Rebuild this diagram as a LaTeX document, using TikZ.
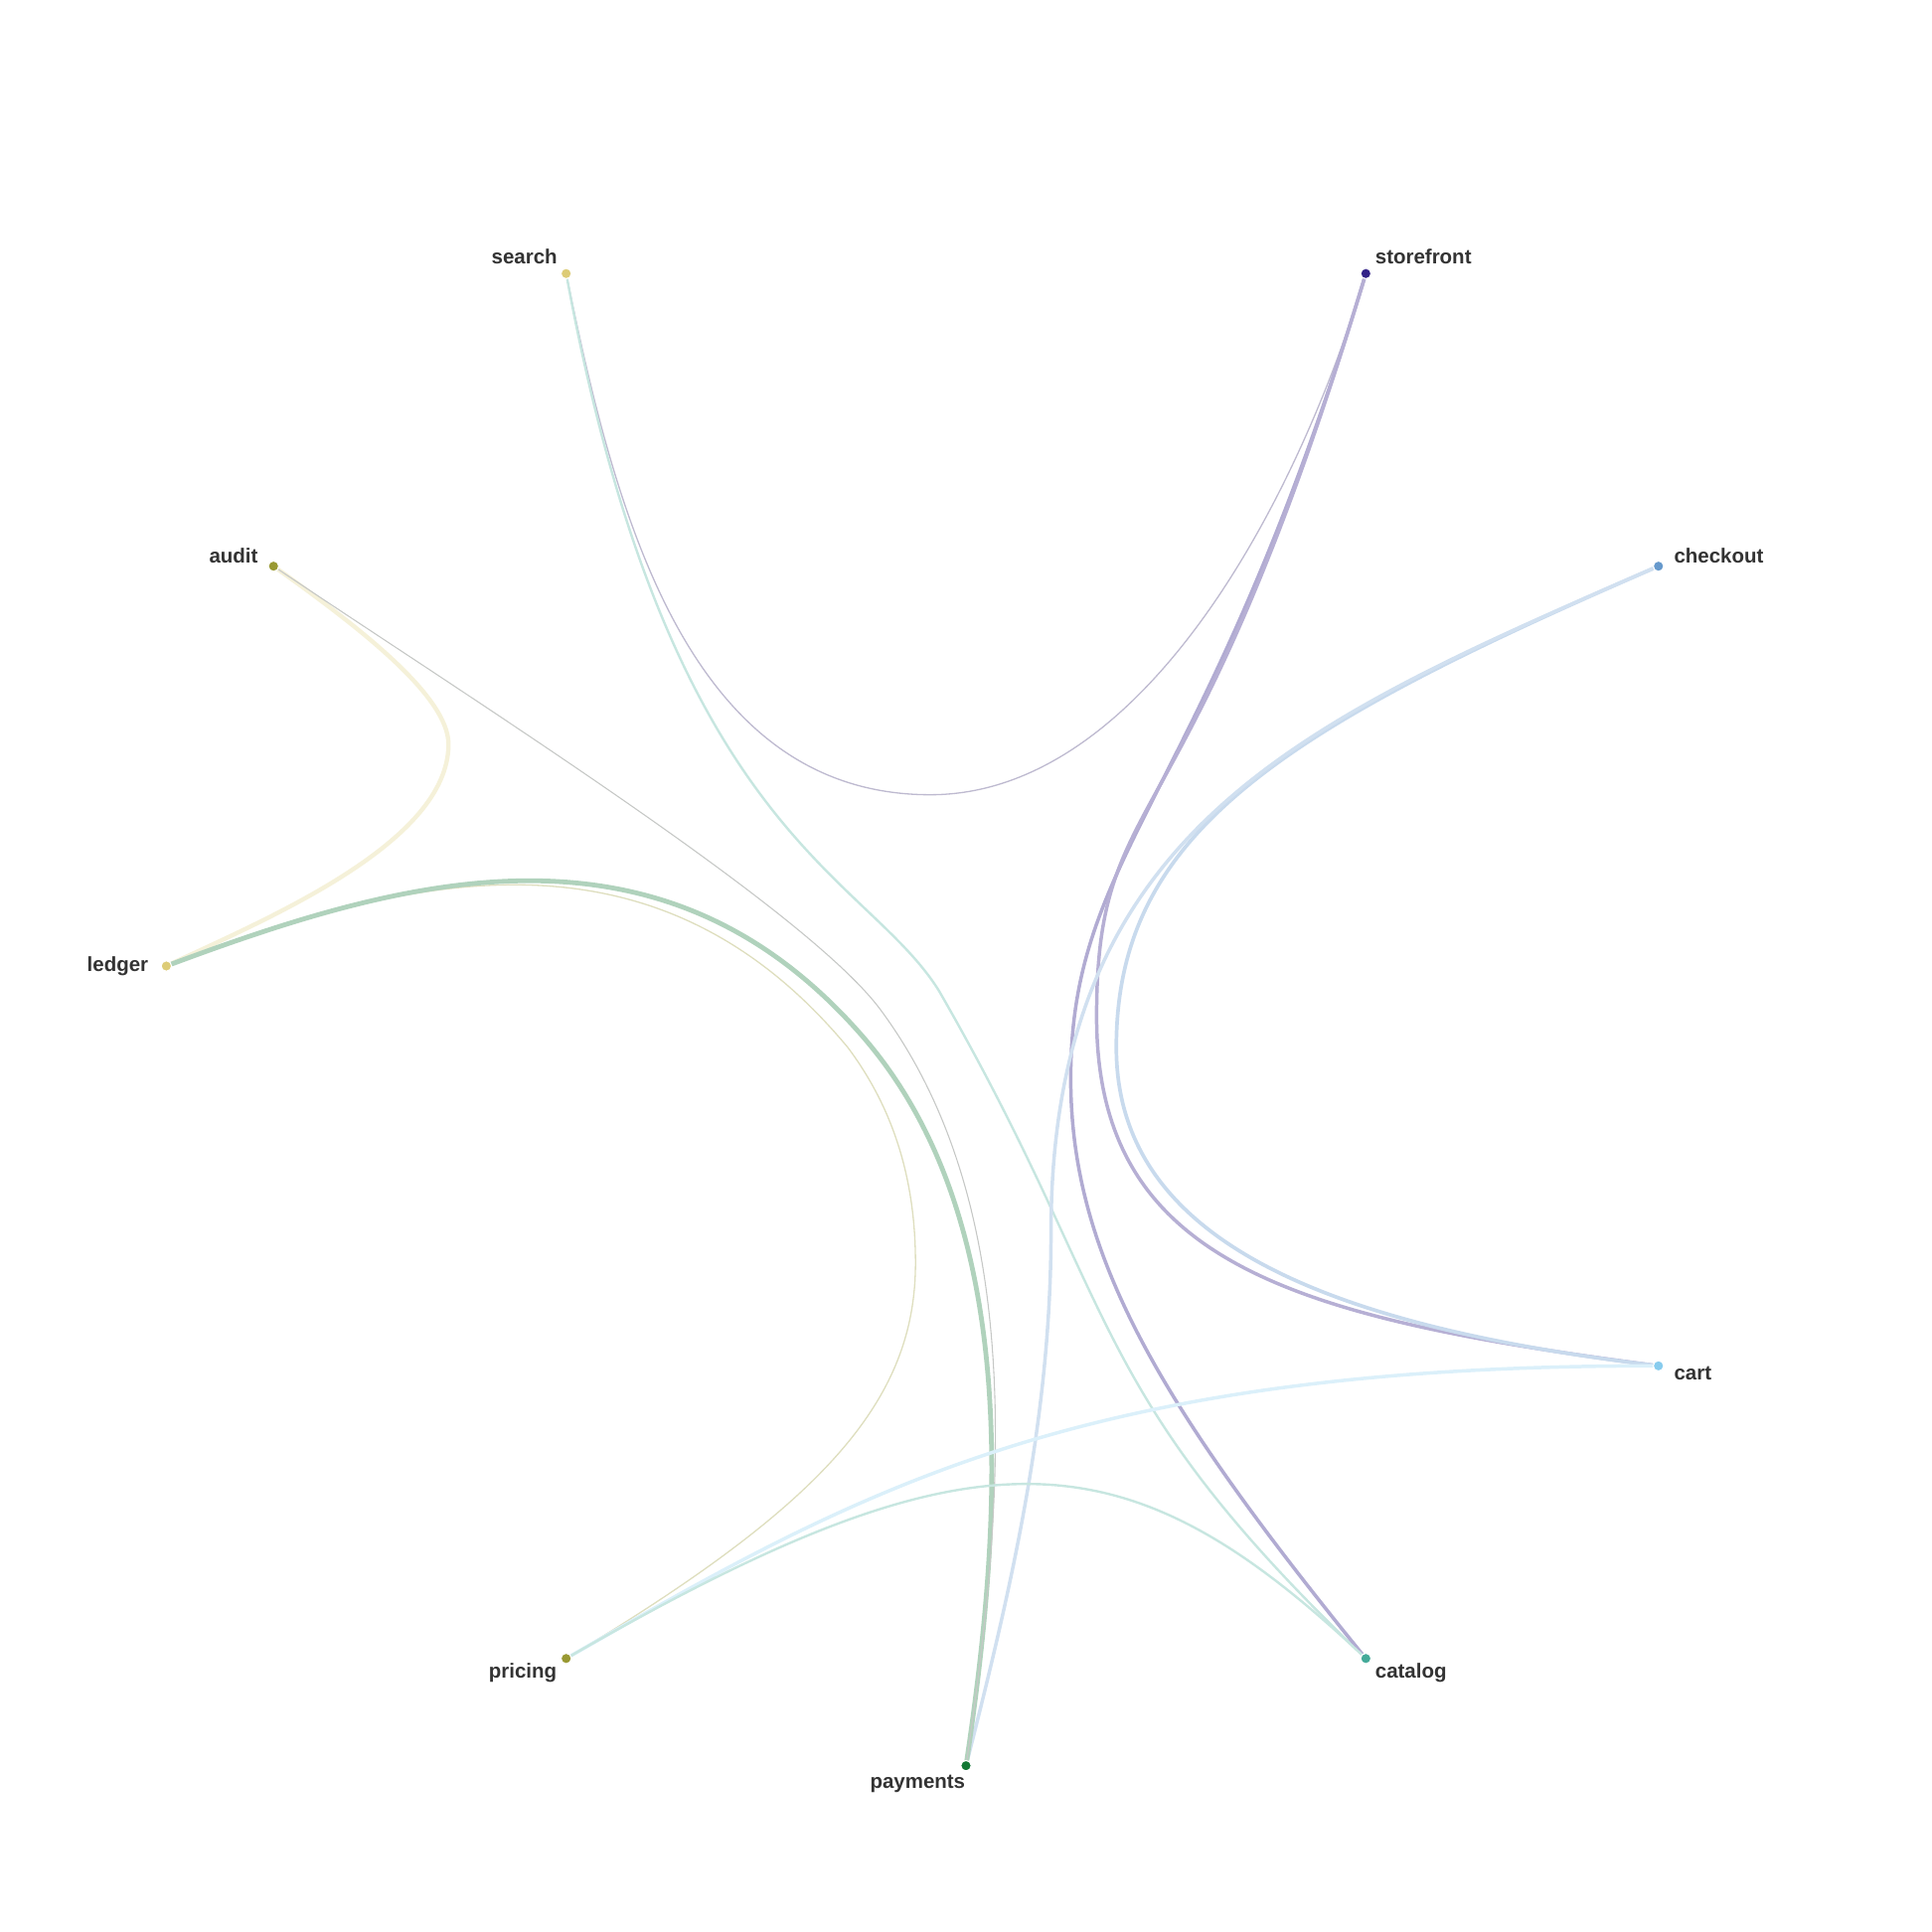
\documentclass[tikz,border=0pt]{standalone}
\usepackage{fontspec}
\setmainfont{Liberation Sans}
\definecolor{tolindigo}{HTML}{332288}
\definecolor{tolcyan}{HTML}{88CCEE}
\definecolor{tolteal}{HTML}{44AA99}
\definecolor{tolgreen}{HTML}{117733}
\definecolor{tololive}{HTML}{999933}
\definecolor{tolsand}{HTML}{DDCC77}
\definecolor{tolblue}{HTML}{6699CC}
\definecolor{labelgray}{HTML}{333333}
\definecolor{linkgray}{RGB}{190,186,208}
\definecolor{thingray}{RGB}{198,200,198}
\pgfdeclarelayer{links}
\pgfsetlayers{links,main}

\begin{document}
\begin{tikzpicture}[
    x=0.1mm, y=-0.1mm,
    dot/.style={circle, draw=white, line width=0.25pt, inner sep=0pt, minimum size=0.85mm},
    tag/.style={font={\bfseries\fontsize{4.7}{5.6}\selectfont}, text=labelgray, inner sep=0pt},
    link/.style={line cap=round, line join=round},
    thin link/.style={link, line width=0.3pt},
    mid link/.style={link, line width=0.55pt},
    bold link/.style={link, line width=0.8pt}]

    \useasboundingbox (0,0) rectangle (1568,1568);

    % nodes on the ring
    \node[dot, fill=tolsand]   (search)     at (459.5,222)   {};
    \node[dot, fill=tolindigo] (storefront) at (1108.5,222)  {};
    \node[dot, fill=tolblue]   (checkout)   at (1346,459.5)  {};
    \node[dot, fill=tolcyan]   (cart)       at (1346,1108.5) {};
    \node[dot, fill=tolteal]   (catalog)    at (1108.5,1346) {};
    \node[dot, fill=tolgreen]  (payments)   at (784,1433)    {};
    \node[dot, fill=tololive]  (pricing)    at (459.5,1346)  {};
    \node[dot, fill=tolsand]   (ledger)     at (135,784)     {};
    \node[dot, fill=tololive]  (audit)      at (222,459.5)   {};

    % bundled links, under the dots
    \begin{pgfonlayer}{links}
    \draw[thin link, draw=linkgray] (search) .. controls (500,420) and (560,645) .. (755,645)
        .. controls (925,645) and (1050.5,413) .. (storefront);
    \draw[mid link, draw=tolteal!30] (search) .. controls (544,678) and (702,708) .. (762,804)
        .. controls (910,1061) and (879.5,1126.6) .. (catalog);
    \draw[bold link, draw=tolindigo!38] (storefront) .. controls (978.6,650.7) and (869,690) .. (869,875)
        .. controls (869,1016.5) and (938.4,1136.5) .. (catalog);
    \draw[bold link, draw=tolindigo!36] (storefront) .. controls (964,700) and (890,632) .. (890,825)
        .. controls (890,1025) and (1049,1069.5) .. (cart);
    \draw[link, line width=0.85pt, draw=tolblue!36] (checkout) .. controls (1037,593.6) and (906,676.5) .. (906,850)
        .. controls (906,1000) and (1060,1074) .. (cart);
    \draw[bold link, draw=tolblue!30] (checkout) .. controls (1054,586.2) and (853,674) .. (853,1000)
        .. controls (853,1150) and (821,1287.6) .. (payments);
    \draw[link, line width=1pt, draw=tolsand!28] (audit) .. controls (287,506) and (364,564) .. (364,604)
        .. controls (364,684) and (216.5,745.7) .. (ledger);
    \draw[thin link, draw=tololive!32] (ledger) .. controls (331,711) and (530,660) .. (688,850)
        .. controls (724,898) and (743,955) .. (743,1025)
        .. controls (743,1136.5) and (669.5,1219.8) .. (pricing);
    \draw[link, line width=1.1pt, draw=tolgreen!33] (ledger) .. controls (331,711) and (537.3,654) .. (700,841)
        .. controls (831,991.6) and (813,1237) .. (payments);
    \draw[link, line width=0.25pt, draw=thingray] (audit) .. controls (388,571) and (656,739.5) .. (715,820)
        .. controls (833.6,981) and (816,1215.4) .. (payments);
    \draw[bold link, draw=tolcyan!30] (pricing) .. controls (697.4,1209.3) and (874,1108.5) .. (cart);
    \draw[mid link, draw=tolteal!30] (pricing) .. controls (792.4,1154.8) and (911.7,1161.3) .. (catalog);
    \end{pgfonlayer}

    % labels
    \node[tag, anchor=base east] (search-t)     at (453,214.4)    {search};
    \node[tag, anchor=base west] (storefront-t) at (1115.5,214.4) {storefront};
    \node[tag, anchor=base west] (checkout-t)   at (1358,456.7)   {checkout};
    \node[tag, anchor=base west] (cart-t)       at (1358,1119.7)  {cart};
    \node[tag, anchor=base west] (catalog-t)    at (1115.5,1362.3){catalog};
    \node[tag, anchor=base east] (payments-t)   at (784,1451.2)   {payments};
    \node[tag, anchor=base east] (pricing-t)    at (452.5,1362.3) {pricing};
    \node[tag, anchor=base east] (ledger-t)     at (121,788.2)    {ledger};
    \node[tag, anchor=base east] (audit-t)      at (210,456.7)    {audit};

\end{tikzpicture}
\end{document}
